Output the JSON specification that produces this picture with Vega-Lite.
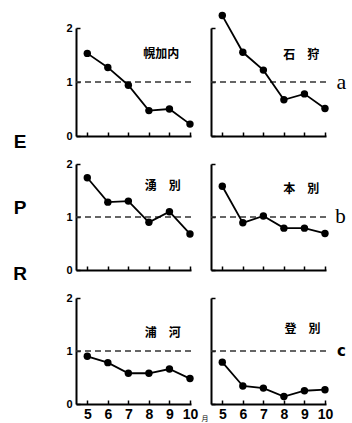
{
  "$schema": "https://vega.github.io/schema/vega-lite/v6.json",
  "background": "white",
  "padding": {"left": 13, "top": 11, "right": 0, "bottom": 0},
  "datasets": {
    "pts": [
      {"station": "幌加内", "month": 5, "epr": 1.53},
      {"station": "幌加内", "month": 6, "epr": 1.27},
      {"station": "幌加内", "month": 7, "epr": 0.94},
      {"station": "幌加内", "month": 8, "epr": 0.47},
      {"station": "幌加内", "month": 9, "epr": 0.50},
      {"station": "幌加内", "month": 10, "epr": 0.22},
      {"station": "石狩", "month": 5, "epr": 2.23},
      {"station": "石狩", "month": 6, "epr": 1.55},
      {"station": "石狩", "month": 7, "epr": 1.22},
      {"station": "石狩", "month": 8, "epr": 0.67},
      {"station": "石狩", "month": 9, "epr": 0.78},
      {"station": "石狩", "month": 10, "epr": 0.51},
      {"station": "湧別", "month": 5, "epr": 1.74},
      {"station": "湧別", "month": 6, "epr": 1.28},
      {"station": "湧別", "month": 7, "epr": 1.30},
      {"station": "湧別", "month": 8, "epr": 0.90},
      {"station": "湧別", "month": 9, "epr": 1.10},
      {"station": "湧別", "month": 10, "epr": 0.68},
      {"station": "本別", "month": 5, "epr": 1.58},
      {"station": "本別", "month": 6, "epr": 0.89},
      {"station": "本別", "month": 7, "epr": 1.02},
      {"station": "本別", "month": 8, "epr": 0.79},
      {"station": "本別", "month": 9, "epr": 0.79},
      {"station": "本別", "month": 10, "epr": 0.69},
      {"station": "浦河", "month": 5, "epr": 0.90},
      {"station": "浦河", "month": 6, "epr": 0.78},
      {"station": "浦河", "month": 7, "epr": 0.58},
      {"station": "浦河", "month": 8, "epr": 0.58},
      {"station": "浦河", "month": 9, "epr": 0.66},
      {"station": "浦河", "month": 10, "epr": 0.48},
      {"station": "登別", "month": 5, "epr": 0.79},
      {"station": "登別", "month": 6, "epr": 0.34},
      {"station": "登別", "month": 7, "epr": 0.30},
      {"station": "登別", "month": 8, "epr": 0.14},
      {"station": "登別", "month": 9, "epr": 0.25},
      {"station": "登別", "month": 10, "epr": 0.27}
    ],
    "ref": [{"v": 1}]
  },
  "columns": 2,
  "spacing": {"row": 28, "column": 20},
  "bounds": "flush",
  "concat": [
    {
      "width": 115, "height": 108,
      "layer": [
        {"data": {"name": "ref"}, "mark": {"type": "rule", "strokeDash": [6, 4], "color": "#333", "strokeWidth": 1.5},
         "encoding": {"y": {"field": "v", "type": "quantitative", "scale": {"domain": [0, 2], "nice": false}, "axis": {"values": [0, 1, 2], "tickCount": 10, "format": ".0f"}}}},
        {"data": {"name": "pts"}, "transform": [{"filter": "datum.station === '幌加内'"}],
         "mark": {"type": "line", "color": "black", "strokeWidth": 1.8, "clip": false, "point": {"filled": true, "size": 55, "color": "black"}},
         "encoding": {
           "x": {"field": "month", "type": "quantitative", "scale": {"domain": [4.45, 10.05], "nice": false, "zero": false}, "axis": {"values": [5, 6, 7, 8, 9, 10], "tickCount": 10, "labels": false}},
           "y": {"field": "epr", "type": "quantitative", "axis": {"values": [0, 1, 2], "tickCount": 10, "format": ".0f"}}}},
        {"data": {"values": [{"name": "幌加内"}]}, "mark": {"type": "text", "font": "Noto Sans CJK JP", "fontWeight": "bold", "fontSize": 12, "clip": false},
         "encoding": {"text": {"field": "name"}, "x": {"datum": 8.6}, "y": {"datum": 1.51}}}
      ]
    },
    {
      "width": 115, "height": 108,
      "layer": [
        {"data": {"name": "ref"}, "mark": {"type": "rule", "strokeDash": [6, 4], "color": "#333", "strokeWidth": 1.5},
         "encoding": {"y": {"field": "v", "type": "quantitative", "scale": {"domain": [0, 2], "nice": false}, "axis": {"values": [0, 1, 2], "tickCount": 10, "labels": false}}}},
        {"data": {"name": "pts"}, "transform": [{"filter": "datum.station === '石狩'"}],
         "mark": {"type": "line", "color": "black", "strokeWidth": 1.8, "clip": false, "point": {"filled": true, "size": 55, "color": "black"}},
         "encoding": {
           "x": {"field": "month", "type": "quantitative", "scale": {"domain": [4.45, 10.05], "nice": false, "zero": false}, "axis": {"values": [5, 6, 7, 8, 9, 10], "tickCount": 10, "labels": false}},
           "y": {"field": "epr", "type": "quantitative", "axis": {"values": [0, 1, 2], "tickCount": 10, "labels": false}}}},
        {"data": {"values": [{"name": "石　狩"}]}, "mark": {"type": "text", "font": "Noto Sans CJK JP", "fontWeight": "bold", "fontSize": 12, "clip": false},
         "encoding": {"text": {"field": "name"}, "x": {"datum": 8.85}, "y": {"datum": 1.5}}},
        {"data": {"values": [{"name": "a"}]}, "mark": {"type": "text", "font": "Liberation Serif", "fontSize": 22, "baseline": "middle", "clip": false},
         "encoding": {"text": {"field": "name"}, "x": {"datum": 10.8}, "y": {"datum": 1.0}}}
      ]
    },
    {
      "width": 115, "height": 106,
      "layer": [
        {"data": {"name": "ref"}, "mark": {"type": "rule", "strokeDash": [6, 4], "color": "#333", "strokeWidth": 1.5},
         "encoding": {"y": {"field": "v", "type": "quantitative", "scale": {"domain": [0, 2], "nice": false}, "axis": {"values": [0, 1, 2], "tickCount": 10, "format": ".0f"}}}},
        {"data": {"name": "pts"}, "transform": [{"filter": "datum.station === '湧別'"}],
         "mark": {"type": "line", "color": "black", "strokeWidth": 1.8, "clip": false, "point": {"filled": true, "size": 55, "color": "black"}},
         "encoding": {
           "x": {"field": "month", "type": "quantitative", "scale": {"domain": [4.45, 10.05], "nice": false, "zero": false}, "axis": {"values": [5, 6, 7, 8, 9, 10], "tickCount": 10, "labels": false}},
           "y": {"field": "epr", "type": "quantitative", "axis": {"values": [0, 1, 2], "tickCount": 10, "format": ".0f"}}}},
        {"data": {"values": [{"name": "湧　別"}]}, "mark": {"type": "text", "font": "Noto Sans CJK JP", "fontWeight": "bold", "fontSize": 12, "clip": false},
         "encoding": {"text": {"field": "name"}, "x": {"datum": 8.68}, "y": {"datum": 1.58}}},
        {"data": {"values": [{"name": "E", "pos": 2.42}, {"name": "P", "pos": 1.17}, {"name": "R", "pos": -0.07}]},
         "mark": {"type": "text", "font": "Liberation Sans", "fontWeight": "bold", "fontSize": 19, "baseline": "middle", "clip": false},
         "encoding": {"text": {"field": "name"}, "x": {"datum": 1.73}, "y": {"field": "pos", "type": "quantitative"}}}
      ]
    },
    {
      "width": 115, "height": 106,
      "layer": [
        {"data": {"name": "ref"}, "mark": {"type": "rule", "strokeDash": [6, 4], "color": "#333", "strokeWidth": 1.5},
         "encoding": {"y": {"field": "v", "type": "quantitative", "scale": {"domain": [0, 2], "nice": false}, "axis": {"values": [0, 1, 2], "tickCount": 10, "labels": false}}}},
        {"data": {"name": "pts"}, "transform": [{"filter": "datum.station === '本別'"}],
         "mark": {"type": "line", "color": "black", "strokeWidth": 1.8, "clip": false, "point": {"filled": true, "size": 55, "color": "black"}},
         "encoding": {
           "x": {"field": "month", "type": "quantitative", "scale": {"domain": [4.45, 10.05], "nice": false, "zero": false}, "axis": {"values": [5, 6, 7, 8, 9, 10], "tickCount": 10, "labels": false}},
           "y": {"field": "epr", "type": "quantitative", "axis": {"values": [0, 1, 2], "tickCount": 10, "labels": false}}}},
        {"data": {"values": [{"name": "本　別"}]}, "mark": {"type": "text", "font": "Noto Sans CJK JP", "fontWeight": "bold", "fontSize": 12, "clip": false},
         "encoding": {"text": {"field": "name"}, "x": {"datum": 8.85}, "y": {"datum": 1.52}}},
        {"data": {"values": [{"name": "b"}]}, "mark": {"type": "text", "font": "Liberation Serif", "fontSize": 21, "baseline": "middle", "clip": false},
         "encoding": {"text": {"field": "name"}, "x": {"datum": 10.75}, "y": {"datum": 1.0}}}
      ]
    },
    {
      "width": 115, "height": 106,
      "layer": [
        {"data": {"name": "ref"}, "mark": {"type": "rule", "strokeDash": [6, 4], "color": "#333", "strokeWidth": 1.5},
         "encoding": {"y": {"field": "v", "type": "quantitative", "scale": {"domain": [0, 2], "nice": false}, "axis": {"values": [0, 1, 2], "tickCount": 10, "format": ".0f"}}}},
        {"data": {"name": "pts"}, "transform": [{"filter": "datum.station === '浦河'"}],
         "mark": {"type": "line", "color": "black", "strokeWidth": 1.8, "clip": false, "point": {"filled": true, "size": 55, "color": "black"}},
         "encoding": {
           "x": {"field": "month", "type": "quantitative", "scale": {"domain": [4.45, 10.05], "nice": false, "zero": false}, "axis": {"values": [5, 6, 7, 8, 9, 10], "tickCount": 10, "format": ".0f", "labelFlush": false}},
           "y": {"field": "epr", "type": "quantitative", "axis": {"values": [0, 1, 2], "tickCount": 10, "format": ".0f"}}}},
        {"data": {"values": [{"name": "浦　河"}]}, "mark": {"type": "text", "font": "Noto Sans CJK JP", "fontWeight": "bold", "fontSize": 12, "clip": false},
         "encoding": {"text": {"field": "name"}, "x": {"datum": 8.68}, "y": {"datum": 1.34}}}
      ]
    },
    {
      "width": 115, "height": 106,
      "layer": [
        {"data": {"name": "ref"}, "mark": {"type": "rule", "strokeDash": [6, 4], "color": "#333", "strokeWidth": 1.5},
         "encoding": {"y": {"field": "v", "type": "quantitative", "scale": {"domain": [0, 2], "nice": false}, "axis": {"values": [0, 1, 2], "tickCount": 10, "labels": false}}}},
        {"data": {"name": "pts"}, "transform": [{"filter": "datum.station === '登別'"}],
         "mark": {"type": "line", "color": "black", "strokeWidth": 1.8, "clip": false, "point": {"filled": true, "size": 55, "color": "black"}},
         "encoding": {
           "x": {"field": "month", "type": "quantitative", "scale": {"domain": [4.45, 10.05], "nice": false, "zero": false}, "axis": {"values": [5, 6, 7, 8, 9, 10], "tickCount": 10, "format": ".0f", "labelFlush": false}},
           "y": {"field": "epr", "type": "quantitative", "axis": {"values": [0, 1, 2], "tickCount": 10, "labels": false}}}},
        {"data": {"values": [{"name": "登　別"}]}, "mark": {"type": "text", "font": "Noto Sans CJK JP", "fontWeight": "bold", "fontSize": 12, "clip": false},
         "encoding": {"text": {"field": "name"}, "x": {"datum": 8.9}, "y": {"datum": 1.41}}},
        {"data": {"values": [{"name": "c"}]}, "mark": {"type": "text", "font": "DejaVu Sans", "fontWeight": "bold", "fontSize": 15, "baseline": "middle", "clip": false},
         "encoding": {"text": {"field": "name"}, "x": {"datum": 10.8}, "y": {"datum": 1.0}}},
        {"data": {"values": [{"name": "月"}]}, "mark": {"type": "text", "font": "Noto Sans CJK JP", "fontSize": 7, "baseline": "middle", "clip": false},
         "encoding": {"text": {"field": "name"}, "x": {"datum": 4.16}, "y": {"datum": -0.28}}}
      ]
    }
  ],
  "config": {
    "view": {"stroke": null},
    "axis": {
      "title": null, "grid": false, "labelOverlap": false,
      "domainColor": "black", "domainWidth": 2,
      "tickColor": "black", "tickWidth": 1.5, "tickSize": -4,
      "labelFont": "Liberation Sans", "labelFontWeight": "bold", "labelColor": "black"
    },
    "axisX": {"labelFontSize": 14, "labelPadding": 7},
    "axisY": {"labelFontSize": 11, "labelPadding": 8}
  }
}
